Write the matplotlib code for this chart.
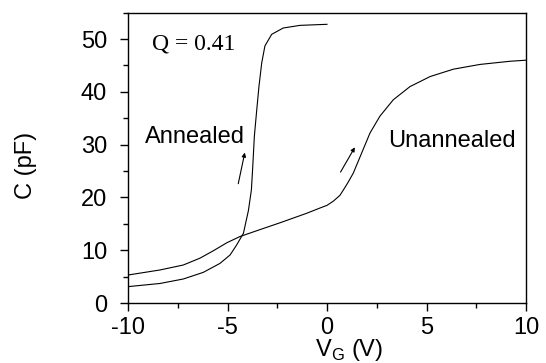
import matplotlib
matplotlib.use("Agg")
import matplotlib.pyplot as plt
from matplotlib.ticker import MultipleLocator

plt.rcParams['font.family'] = ['Liberation Sans', 'DejaVu Sans']
plt.rcParams['axes.unicode_minus'] = False

# Annealed sample (steep transition)
annealed_v = [-10, -8.39, -7.22, -6.22, -5.38, -4.87, -4.54, -4.2, -3.95, -3.8,
              -3.73, -3.65, -3.53, -3.42, -3.28, -3.12, -2.78, -2.2, -1.36, -0.35, 0.0]
annealed_c = [3.1, 3.7, 4.55, 5.8, 7.5, 9.1, 11.0, 13.2, 17.5, 21.4,
              25.9, 31.6, 36.6, 41.0, 45.5, 48.7, 50.9, 52.1, 52.6, 52.75, 52.8]

# Unannealed sample
unannealed_v = [-10, -8.39, -7.22, -6.38, -5.71, -5.04, -4.37, -3.37, -2.36, -1.02,
                -0.35, 0.0, 0.32, 0.65, 0.82, 1.05, 1.32, 1.74, 2.16, 2.66,
                3.33, 4.17, 5.18, 6.35, 7.69, 9.2, 10]
unannealed_c = [5.3, 6.26, 7.2, 8.5, 9.9, 11.4, 12.6, 13.9, 15.2, 17.0,
                18.0, 18.5, 19.3, 20.4, 21.4, 22.8, 24.6, 28.4, 32.2, 35.4,
                38.5, 41.0, 42.9, 44.3, 45.2, 45.8, 46.0]

fig = plt.figure(figsize=(5.46, 3.63), dpi=100)
ax = fig.add_axes([128 / 546, 1 - 303 / 363, 398 / 546, 290.3 / 363])

ax.plot(annealed_v, annealed_c, color='black', linewidth=0.8)
ax.plot(unannealed_v, unannealed_c, color='black', linewidth=0.8)

# sweep direction arrows
arrow = dict(arrowstyle='-|>', color='black', lw=0.8, mutation_scale=6,
             shrinkA=0, shrinkB=0)
ax.annotate('', xy=(-4.13, 28.5), xytext=(-4.46, 22.6), arrowprops=arrow)
ax.annotate('', xy=(1.40, 29.5), xytext=(0.68, 24.8), arrowprops=arrow)

ax.text(-8.81, 48.0, 'Q = 0.41', fontsize=17, family='Liberation Serif',
        va='baseline', ha='left')
ax.text(-9.15, 30.4, 'Annealed', fontsize=17, va='baseline', ha='left')
ax.text(3.08, 29.5, 'Unannealed', fontsize=17, va='baseline', ha='left')

ax.set_xlim(-10, 10)
ax.set_ylim(0, 55)
ax.xaxis.set_major_locator(MultipleLocator(5))
ax.xaxis.set_minor_locator(MultipleLocator(2.5))
ax.yaxis.set_major_locator(MultipleLocator(10))
ax.yaxis.set_minor_locator(MultipleLocator(5))
ax.tick_params(which='both', direction='out', top=False, right=False,
               labelsize=17, width=1)
ax.tick_params(which='major', length=6)
ax.tick_params(which='minor', length=3.5)
ax.tick_params(axis='y', pad=9)
ax.tick_params(axis='x', pad=4)
for spine in ax.spines.values():
    spine.set_linewidth(1)

fig.text(349 / 546, 1 - 350 / 363, 'V$_\\mathregular{G}$ (V)', fontsize=17,
         ha='center', va='center')
fig.text(26 / 546, 1 - 165 / 363, 'C (pF)', fontsize=17, rotation=90,
         ha='center', va='center')

plt.savefig('out.png', dpi=100)
